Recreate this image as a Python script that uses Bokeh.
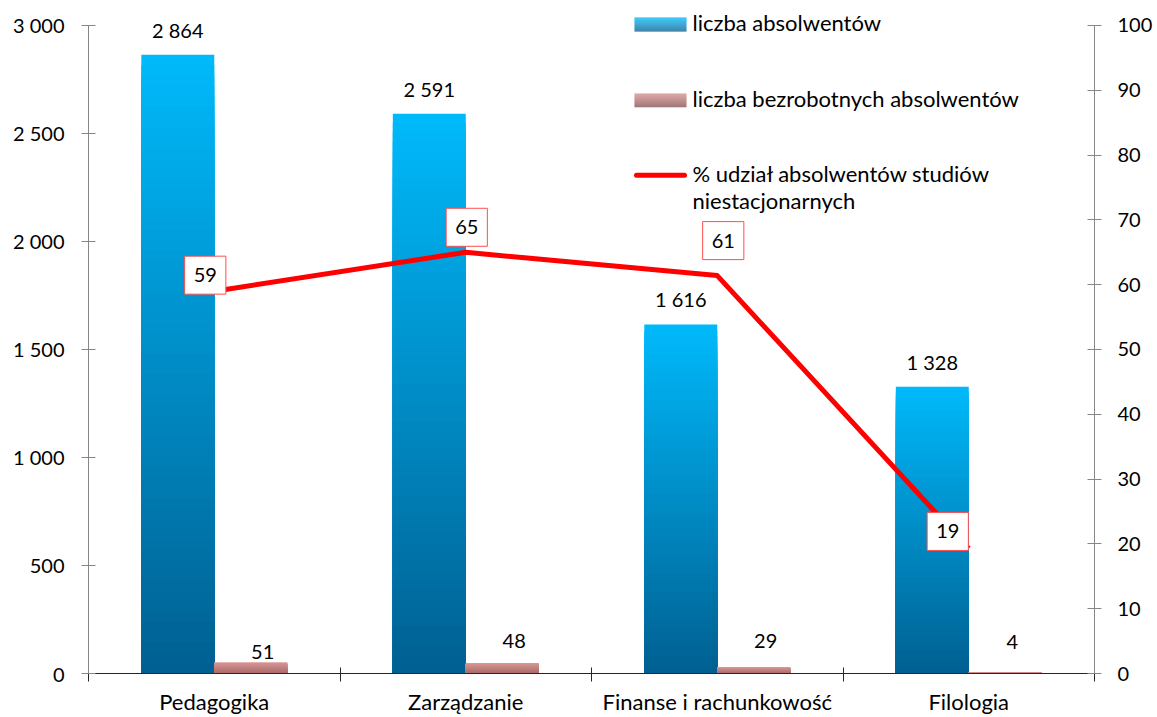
from bokeh.plotting import figure
from bokeh.models import Range1d, LinearAxis, FixedTicker, CustomJSTickFormatter
from bokeh.core.properties import value
from bokeh.embed import file_html
from bokeh.resources import INLINE

# ---------------- data ----------------
categories = ["Pedagogika", "Zarządzanie", "Finanse i rachunkowość", "Filologia"]
graduates = [2864, 2591, 1616, 1328]
unemployed = [51, 48, 29, 4]
part_time_pct = [59.0, 65.0, 61.4, 19.3]
left_ticks = [0, 500, 1000, 1500, 2000, 2500, 3000]
right_ticks = [0, 10, 20, 30, 40, 50, 60, 70, 80, 90, 100]
legend_labels = ["liczba absolwentów", "liczba bezrobotnych absolwentów",
                 "% udział absolwentów studiów", "niestacjonarnych"]

# ---------------- layout / style ----------------
FONT = value("Lato")
FS_NUM = "20px"
FS_TXT = "22px"
W, H = 1157, 717
BL, BR, BT, BB = 88, 63, 10, 43
FW, FH = W - BL - BR, H - BT - BB
AXIS_PX = 649                       # pixels spanned by 0..3000 / 0..100
BAR_W = 0.29

def fmt(v):
    return f"{v:,}".replace(",", " ")

def grad(c0, c1, n):
    out = []
    for k in range(n):
        t = k / (n - 1)
        r, g, b = (round(c0[j] + (c1[j] - c0[j]) * t) for j in range(3))
        out.append(f"#{r:02x}{g:02x}{b:02x}")
    return out

BLUE_TOP, BLUE_BOT = (0, 185, 250), (0, 96, 146)
PINK_TOP, PINK_BOT = (217, 150, 148), (168, 108, 106)

p = figure(width=W, height=H, output_backend="svg", toolbar_location=None,
           x_range=Range1d(0, len(categories)),
           y_range=Range1d(0, 3000 * FH / AXIS_PX),
           min_border_left=BL, min_border_right=BR, min_border_top=BT, min_border_bottom=BB)
p.extra_y_ranges = {"pct": Range1d(0, 100 * FH / AXIS_PX), "py": Range1d(FH, 0)}
p.extra_x_ranges = {"px": Range1d(0, FW)}
p.outline_line_color = None
p.xgrid.visible = False
p.ygrid.visible = False
p.background_fill_color = "white"

centers = [i + 0.5 for i in range(len(categories))]

# ---------------- gradient bars ----------------
N = 60
bcols = grad(BLUE_TOP, BLUE_BOT, N)
pcols = grad(PINK_TOP, PINK_BOT, N)
bx, btop, bc, px_, ptop, pc = [], [], [], [], [], []
for k in range(N):
    for i, c in enumerate(centers):
        bx.append(c - BAR_W / 2); btop.append(graduates[i] * (N - k) / N); bc.append(bcols[k])
        px_.append(c + BAR_W / 2); ptop.append(unemployed[i] * (N - k) / N); pc.append(pcols[k])
p.vbar(x=bx, top=btop, bottom=0, width=BAR_W, fill_color=bc, line_color=None)
p.vbar(x=px_, top=ptop, bottom=0, width=BAR_W, fill_color=pc, line_color=None)

# bar value labels
p.text(x=[c - BAR_W / 2 for c in centers], y=graduates, text=[fmt(v) for v in graduates],
       y_offset=-25, text_align="center", text_baseline="middle",
       text_font=FONT, text_font_size=FS_NUM, text_color="black")
p.text(x=[c + BAR_W / 2 for c in centers], y=unemployed, text=[fmt(v) for v in unemployed],
       x_offset=[12, 12, 12, 7], y_offset=[-10, -22, -26, -31], text_align="center",
       text_baseline="middle", text_font=FONT, text_font_size=FS_NUM, text_color="black")

# ---------------- line on secondary axis ----------------
p.line(x=centers, y=part_time_pct, y_range_name="pct", line_color="#FF0000",
       line_width=5, line_join="round")
p.text(x=centers, y=part_time_pct, text=[f"{v:.0f}" for v in part_time_pct],
       y_range_name="pct", x_offset=[-9, 1, 6, -21], y_offset=[-16, -25, -35, -17],
       text_align="center", text_baseline="middle", text_font=FONT, text_font_size=FS_NUM,
       text_color="black", background_fill_color="white", border_line_color="#FF4D4D",
       border_line_width=1, padding=(9, 12))

# ---------------- axes ----------------
AX_GRAY = "#868686"
yl = p.yaxis[0]
yl.bounds = (0, 3000)
yl.ticker = FixedTicker(ticks=left_ticks)
yl.formatter = CustomJSTickFormatter(code=r"return Math.round(tick).toString().replace(/\B(?=(\d{3})+(?!\d))/g, ' ');")
yr = LinearAxis(y_range_name="pct", bounds=(0, 100), ticker=FixedTicker(ticks=right_ticks))
p.add_layout(yr, "right")
for ax, so in ((yl, 17), (yr, 16)):
    ax.axis_line_color = AX_GRAY
    ax.major_tick_line_color = AX_GRAY
    ax.minor_tick_line_color = None
    ax.major_tick_in = 7
    ax.major_tick_out = 7
    ax.major_label_standoff = so
    ax.major_label_text_font = "Lato"
    ax.major_label_text_font_size = FS_NUM
    ax.major_label_text_color = "black"

xa = p.xaxis[0]
xa.ticker = FixedTicker(ticks=centers, minor_ticks=list(range(len(categories) + 1)))
xa.formatter = CustomJSTickFormatter(args=dict(names=categories),
                                     code="return names[Math.floor(tick)];")
xa.axis_line_color = "#262626"
xa.major_tick_line_color = None
xa.minor_tick_line_color = "#262626"
xa.minor_tick_in = 6
xa.minor_tick_out = 8
xa.major_label_standoff = 6
xa.major_label_text_font = "Lato"
xa.major_label_text_font_size = FS_TXT
xa.major_label_text_color = "black"

# ---------------- legend (frame pixel coordinates) ----------------
LX0, LX1 = 546, 598
SW = 14
for (y0, cols) in ((7, grad(BLUE_TOP, BLUE_BOT, SW)), (83, grad(PINK_TOP, (140, 90, 90), SW))):
    p.quad(left=[LX0] * SW, right=[LX1] * SW, top=[y0 + j for j in range(SW)],
           bottom=[y0 + j + 1 for j in range(SW)], fill_color=cols, line_color=None,
           x_range_name="px", y_range_name="py")
p.line(x=[LX0 + 2, LX1 - 2], y=[165, 165], line_color="#FF0000", line_width=5,
       line_cap="round", x_range_name="px", y_range_name="py")
p.text(x=[604] * 4, y=[12, 88, 163, 190], text=legend_labels, x_range_name="px",
       y_range_name="py", text_align="left", text_baseline="middle",
       text_font=FONT, text_font_size=FS_TXT, text_color="black")

open("out.html", "w").write(file_html(p, INLINE))
